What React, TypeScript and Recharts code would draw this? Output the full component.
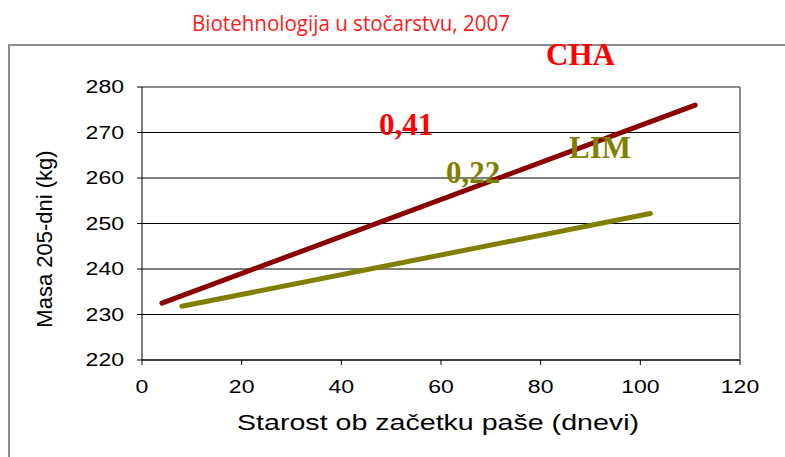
import React from "react";
import {
  CartesianGrid,
  Line,
  LineChart,
  ReferenceLine,
  XAxis,
  YAxis,
} from "recharts";

// regression lines, start and end
const chaX = [4, 111];
const chaY = [232.5, 276];
const limX = [8, 102];
const limY = [231.8, 252.2];

const xTicks = [0, 20, 40, 60, 80, 100, 120];
const yTicks = [220, 230, 240, 250, 260, 270, 280];

const chaData = chaX.map((x, i) => ({ x, y: chaY[i] }));
const limData = limX.map((x, i) => ({ x, y: limY[i] }));

const W = 785;
const H = 457;
const SANS = "'Liberation Sans', Arial, sans-serif";
const SERIF = "'Liberation Serif', 'Times New Roman', serif";

// the source picture is stretched sideways, so the sans text is too
const StretchTick = (props: any) => {
  const { x, y, payload, textAnchor, dy } = props;
  return (
    <text
      transform={`translate(${x},${y + dy}) scale(1.28,1)`}
      textAnchor={textAnchor}
      fontFamily={SANS}
      fontSize={18}
      fill="#000"
    >
      {payload.value}
    </text>
  );
};

export default function App() {
  return (
    <div
      style={{
        position: "absolute",
        left: 0,
        top: 0,
        width: W,
        height: H,
        background: "#fff",
        overflow: "hidden",
      }}
    >
      <LineChart
        width={W}
        height={H}
        margin={{ top: 87, right: 45, bottom: 67, left: 82 }}
      >
        <CartesianGrid vertical={false} stroke="#000" strokeWidth={1} />
        <XAxis
          type="number"
          dataKey="x"
          domain={[0, 120]}
          ticks={xTicks}
          height={30}
          stroke="#000"
          tickSize={5}
          tickMargin={15}
          tick={(p: any) => <StretchTick {...p} textAnchor="middle" dy={13} />}
        />
        <YAxis
          type="number"
          dataKey="y"
          domain={[220, 280]}
          ticks={yTicks}
          width={60}
          stroke="#000"
          tickSize={5}
          tickMargin={13}
          tick={(p: any) => <StretchTick {...p} textAnchor="end" dy={6.4} />}
        />
        <ReferenceLine y={280} stroke="#8c8c8c" strokeWidth={2} />
        <ReferenceLine x={120} stroke="#8c8c8c" strokeWidth={2} />
        <Line
          data={limData}
          dataKey="y"
          stroke="#808000"
          strokeWidth={5}
          strokeLinecap="round"
          dot={false}
          isAnimationActive={false}
        />
        <Line
          data={chaData}
          dataKey="y"
          stroke="#8b0000"
          strokeWidth={5}
          strokeLinecap="round"
          dot={false}
          isAnimationActive={false}
        />
      </LineChart>
      <svg
        width={W}
        height={H}
        style={{ position: "absolute", left: 0, top: 0, pointerEvents: "none" }}
      >
        <rect
          x={9}
          y={45}
          width={900}
          height={600}
          fill="none"
          stroke="#8c8c8c"
          strokeWidth={2}
        />
        <text
          x={192}
          y={31}
          fontFamily="'Open Sans', sans-serif"
          fontSize={21}
          fill="#ff1a1a"
          textLength={318}
          lengthAdjust="spacingAndGlyphs"
        >
          Biotehnologija u stočarstvu, 2007
        </text>
        <text
          transform="translate(45,239) rotate(-90)"
          textAnchor="middle"
          dy={7}
          fontFamily={SANS}
          fontSize={22}
          fill="#000"
        >
          Masa 205-dni (kg)
        </text>
        <text
          transform="translate(438,430) scale(1.3,1)"
          textAnchor="middle"
          fontFamily={SANS}
          fontSize={22}
          fill="#000"
        >
          Starost ob začetku paše (dnevi)
        </text>
        <g fontFamily={SERIF} fontWeight="bold" fontSize={31}>
          <text x={546} y={65} fill="#ff0000">CHA</text>
          <text x={379} y={135} fill="#ff0000">0,41</text>
          <text x={569} y={158} fill="#808000">LIM</text>
          <text x={446} y={183} fill="#808000">0,22</text>
        </g>
      </svg>
    </div>
  );
}
